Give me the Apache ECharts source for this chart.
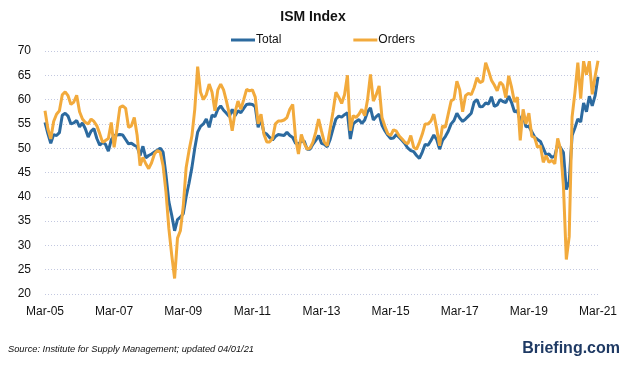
<!DOCTYPE html>
<html>
<head>
<meta charset="utf-8">
<script src="https://cdn.jsdelivr.net/npm/echarts@6/dist/echarts.min.js"></script>
<style>
html,body{margin:0;padding:0;background:#fff;}
#chart{width:626px;height:367px;}
</style>
</head>
<body>
<div id="chart"></div>
<script>
var startYear = 2005, startMonth = 2; // Mar-05
var monthNames = ['Jan','Feb','Mar','Apr','May','Jun','Jul','Aug','Sep','Oct','Nov','Dec'];

var totalValues = [
55.3, 53.0, 51.0, 52.8, 52.6, 53.2, 56.8, 57.2, 56.6, 55.0,
55.2, 55.7, 54.4, 55.2, 54.0, 52.3, 53.5, 54.0, 52.0, 50.6,
51.2, 50.8, 49.4, 51.7, 52.6, 52.7, 52.8, 52.7, 51.8, 50.9,
51.0, 50.6, 50.3, 48.5, 50.4, 48.0, 48.5, 48.8, 49.2, 49.6,
50.0, 49.2, 44.5, 39.0, 36.2, 33.0, 35.3, 35.8, 36.5, 40.0,
42.8, 46.0, 50.0, 53.3, 54.5, 55.0, 56.0, 54.3, 56.8, 56.5,
58.0, 58.7, 57.8, 57.2, 56.5, 58.0, 56.7, 57.7, 57.3, 58.2,
59.0, 59.1, 59.0, 58.5, 54.3, 56.0, 53.2, 52.9, 52.2, 51.7,
52.4, 52.8, 52.7, 52.6, 53.3, 52.6, 52.2, 51.0, 50.9, 51.4,
51.5, 49.8, 49.8, 50.8, 51.6, 52.6, 51.0, 50.8, 50.3, 51.8,
54.0, 56.0, 56.6, 56.4, 56.9, 57.3, 51.9, 55.0, 55.5, 55.9,
55.1, 55.8, 57.5, 58.3, 55.8, 56.5, 57.0, 54.7, 53.6, 52.7,
52.0, 52.1, 52.8, 52.2, 51.6, 50.9, 50.0, 49.5, 49.3, 48.5,
47.9, 49.2, 50.8, 50.6, 51.6, 52.7, 51.8, 49.8, 51.6, 52.4,
53.5, 55.0, 55.7, 57.2, 56.2, 55.5, 56.0, 56.6, 57.2, 59.5,
60.0, 58.5, 58.6, 59.3, 59.1, 60.6, 58.6, 58.9, 60.0, 59.6,
59.4, 60.7, 59.4, 57.5, 57.7, 55.7, 56.8, 54.4, 54.5, 53.4,
52.3, 51.8, 51.4, 50.0, 48.6, 48.8, 48.1, 48.4, 50.9, 50.1,
49.1, 41.5, 43.1, 52.6, 54.2, 56.0, 55.4, 59.3, 57.5, 60.7,
58.7, 60.8, 64.7
];

var ordersValues = [
57.7, 54.0, 51.9, 55.5, 57.0, 57.7, 61.0, 61.6, 60.8, 59.0,
59.5, 60.9, 57.5, 56.0, 55.3, 55.0, 56.0, 55.5, 54.6, 53.0,
51.2, 51.6, 52.0, 55.3, 50.2, 54.0, 58.4, 58.7, 58.2, 54.3,
54.6, 56.3, 52.6, 46.4, 48.1, 46.8, 45.8, 47.0, 48.8, 49.5,
49.2, 46.4, 41.0, 33.5, 28.0, 23.2, 31.5, 33.0, 38.0, 46.0,
49.5, 52.5, 58.0, 66.8, 61.5, 60.0, 61.0, 63.2, 61.5, 57.7,
62.0, 63.2, 62.0, 59.7, 57.0, 53.6, 57.4, 59.7, 58.0, 60.0,
62.1, 61.8, 62.0, 60.5, 55.0, 57.0, 52.9, 51.3, 51.3, 52.0,
55.0, 55.6, 55.6, 55.8, 56.3, 58.0, 59.0, 52.0, 48.8, 52.8,
51.0, 49.8, 50.0, 51.2, 53.3, 56.0, 53.5, 51.2, 50.5, 54.0,
57.5, 61.5, 60.5, 59.2, 61.0, 65.0, 53.6, 56.7, 56.3, 57.0,
58.0, 56.7, 60.0, 65.2, 59.7, 61.0, 62.8, 56.3, 54.5, 53.0,
52.6, 53.8, 53.5, 52.5, 51.9, 51.2, 50.9, 52.6, 50.2, 49.8,
51.2, 52.9, 55.0, 55.0, 55.6, 57.0, 54.0, 50.5, 54.6, 54.3,
57.0, 59.7, 60.1, 63.8, 62.0, 57.5, 60.8, 61.3, 61.0, 62.5,
64.5, 63.5, 63.8, 67.6, 65.9, 64.0, 63.0, 61.8, 63.6, 63.0,
60.4, 64.9, 62.5, 59.5, 60.5, 51.6, 58.0, 55.0, 57.2, 52.5,
52.2, 50.2, 50.5, 47.1, 48.5, 47.1, 47.5, 46.8, 52.0, 49.8,
42.2, 27.1, 31.8, 56.4, 61.5, 67.6, 60.2, 67.9, 65.1, 67.9,
61.1, 64.8, 68.0
];

var yTicks = [20, 25, 30, 35, 40, 45, 50, 55, 60, 65, 70];

var categories = [];
for (var k = 0; k < totalValues.length; k++) {
  var m = startMonth + k;
  var y = startYear + Math.floor(m / 12);
  categories.push(monthNames[m % 12] + '-' + String(y % 100).padStart(2, '0'));
}

var chart = echarts.init(document.getElementById('chart'), null, {renderer: 'canvas'});
var fontFam = "'Liberation Sans', Arial, sans-serif";
chart.setOption({
  animation: false,
  backgroundColor: '#ffffff',
  title: {
    text: 'ISM Index',
    left: 'center',
    top: 5,
    textStyle: {fontFamily: fontFam, fontSize: 14, fontWeight: 'bold', color: '#111'}
  },
  legend: {
    top: 29,
    left: 226,
    itemGap: 72,
    itemWidth: 24,
    itemHeight: 3,
    icon: 'rect',
    textStyle: {fontFamily: fontFam, fontSize: 12, color: '#111', padding: [0, 0, 0, -4]},
    data: ['Total', 'Orders']
  },
  grid: {left: 45, right: 28, top: 51, bottom: 73, containLabel: false},
  xAxis: {
    type: 'category',
    data: categories,
    boundaryGap: false,
    axisLine: {show: false},
    axisTick: {show: false},
    splitLine: {show: false},
    axisLabel: {
      interval: 23,
      margin: 12,
      fontFamily: fontFam,
      fontSize: 12,
      color: '#111'
    }
  },
  yAxis: {
    type: 'value',
    min: yTicks[0],
    max: yTicks[yTicks.length - 1],
    interval: 5,
    axisLine: {show: false},
    axisTick: {show: false},
    axisLabel: {margin: 14, fontFamily: fontFam, fontSize: 12, color: '#111'},
    splitLine: {show: true, lineStyle: {color: '#c3c8e0', type: [1, 2], width: 1}}
  },
  series: [
    {
      name: 'Total',
      type: 'line',
      data: totalValues,
      symbol: 'none',
      smooth: false,
      lineStyle: {color: '#2c6a9f', width: 3},
      itemStyle: {color: '#2c6a9f'}
    },
    {
      name: 'Orders',
      type: 'line',
      data: ordersValues,
      symbol: 'none',
      smooth: false,
      lineStyle: {color: '#f2aa3c', width: 3},
      itemStyle: {color: '#f2aa3c'}
    }
  ],
  graphic: [
    {
      type: 'text',
      left: 8,
      top: 345,
      style: {
        text: 'Source: Institute for Supply Management; updated 04/01/21',
        font: 'italic 9.3px ' + fontFam,
        fill: '#111'
      }
    },
    {
      type: 'text',
      right: 6,
      top: 341,
      style: {
        text: 'Briefing.com',
        font: 'bold 16px ' + fontFam,
        fill: '#1f3a64'
      }
    }
  ]
});
</script>
</body>
</html>
